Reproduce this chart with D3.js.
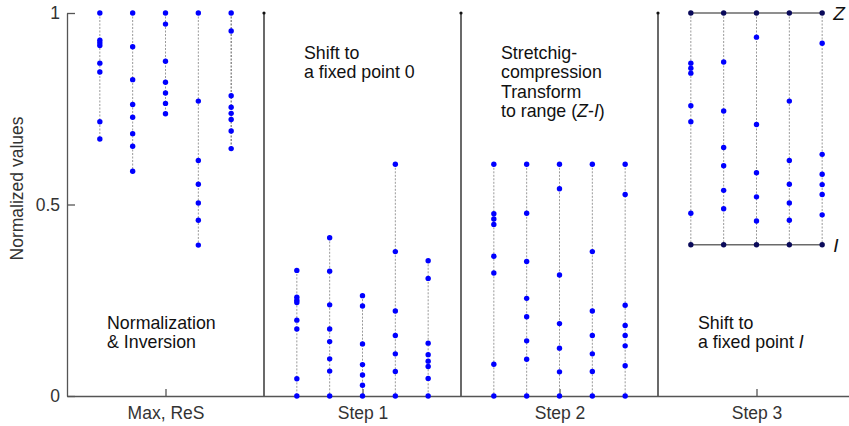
<!DOCTYPE html>
<html>
<head>
<meta charset="utf-8">
<script src="https://cdn.jsdelivr.net/npm/d3@7"></script>
<style>
  html, body { margin: 0; padding: 0; background: #fff; }
  svg { display: block; font-family: "Liberation Sans", Arial, sans-serif; }
</style>
</head>
<body>
<svg id="chart" width="849" height="426"></svg>
<script>
// ---------- data ----------
const categories = ["Max, ReS", "Step 1", "Step 2", "Step 3"];
const yTicks = [0, 0.5, 1];

// Values for each column (5 columns per panel)
const rawValues = [
  [1.0, 0.929, 0.922, 0.915, 0.869, 0.846, 0.716, 0.671],
  [1.0, 0.912, 0.826, 0.761, 0.728, 0.685, 0.652, 0.587],
  [1.0, 0.971, 0.874, 0.819, 0.791, 0.764, 0.737],
  [1.0, 0.770, 0.615, 0.553, 0.504, 0.459, 0.394],
  [1.0, 0.953, 0.784, 0.754, 0.738, 0.722, 0.692, 0.646]
];
const step1Values = [
  [0.328, 0.258, 0.250, 0.244, 0.198, 0.175, 0.045, 0],
  [0.413, 0.326, 0.238, 0.175, 0.142, 0.097, 0.065, 0],
  [0.262, 0.235, 0.136, 0.082, 0.055, 0.028, 0],
  [0.605, 0.377, 0.222, 0.158, 0.110, 0.064, 0],
  [0.353, 0.307, 0.138, 0.108, 0.091, 0.077, 0.046, 0]
];
const step2Values = [
  [0.605, 0.476, 0.462, 0.448, 0.365, 0.321, 0.083, 0],
  [0.605, 0.477, 0.351, 0.255, 0.207, 0.144, 0.096, 0],
  [0.605, 0.541, 0.316, 0.189, 0.125, 0.063, 0],
  [0.605, 0.377, 0.222, 0.158, 0.110, 0.064, 0],
  [0.605, 0.526, 0.237, 0.184, 0.158, 0.131, 0.079, 0]
];
const step3Values = [
  [1.0, 0.869, 0.856, 0.843, 0.758, 0.716, 0.477, 0.395],
  [1.0, 0.872, 0.744, 0.649, 0.601, 0.537, 0.489, 0.395],
  [1.0, 0.937, 0.709, 0.583, 0.520, 0.457, 0.395],
  [1.0, 0.770, 0.615, 0.553, 0.504, 0.459, 0.395],
  [1.0, 0.921, 0.631, 0.579, 0.552, 0.526, 0.473, 0.395]
];
const panels = [rawValues, step1Values, step2Values, step3Values];

const boundZ = 1.0;
const boundI = 0.395;

const annotations = [
  { panel: 0, lines: ["Normalization", "& Inversion"], y: 0.175 },
  { panel: 1, lines: ["Shift to", "a fixed point 0"], y: 0.88 },
  { panel: 2, lines: ["Stretchig-", "compression", "Transform", "to range (Z-I)"], y: 0.88 },
  { panel: 3, lines: ["Shift to", "a fixed point I"], y: 0.175 }
];

// ---------- layout ----------
const svg = d3.select("#chart");
const x = d3.scaleLinear().domain([0, 4]).range([67, 855]);
const y = d3.scaleLinear().domain([0, 1]).range([396, 13]);
const colOffsets = [-2, -1, 0, 1, 2].map(k => k / 6);
const colX = (p, j) => x(p + 0.5 + colOffsets[j]);

// dividers between panels
const dividers = [1, 2, 3];
svg.append("g").selectAll("line").data(dividers).join("line")
  .attr("x1", d => x(d)).attr("x2", d => x(d))
  .attr("y1", y(1)).attr("y2", y(0))
  .attr("stroke", "#1a1a1a").attr("stroke-width", 1.3);
svg.append("g").selectAll("circle").data(dividers).join("circle")
  .attr("cx", d => x(d)).attr("cy", y(1)).attr("r", 1.6).attr("fill", "#111");

// axes
const yAxis = d3.axisLeft(y).tickValues(yTicks).tickFormat(d3.format("")).tickSize(-8).tickSizeOuter(0).tickPadding(7);
const gy = svg.append("g").attr("transform", `translate(${x(0)},0)`).call(yAxis);
const xAxis = d3.axisBottom(x).tickValues([0.5, 1.5, 2.5, 3.5]).tickFormat((d, i) => categories[i]).tickSize(-7).tickSizeOuter(0).tickPadding(11);
const gx = svg.append("g").attr("transform", `translate(0,${y(0)})`).call(xAxis);
[gy, gx].forEach(g => {
  g.select(".domain").attr("stroke", "#555").attr("stroke-width", 1.3);
  g.selectAll(".tick line").attr("stroke", "#555").attr("stroke-width", 1.3);
  g.selectAll(".tick text").attr("fill", "#333").style("font-size", "17.5px")
    .style("font-family", "'Liberation Sans', Arial, sans-serif");
});

// y title
svg.append("text")
  .attr("transform", `translate(23,${(y(0)+y(1))/2 - 16}) rotate(-90)`)
  .attr("text-anchor", "middle")
  .attr("fill", "#333").style("font-size", "17.5px")
  .text("Normalized values");

// Step 3 bound lines
const p3 = 3;
[boundZ, boundI].forEach(b => {
  svg.append("line")
    .attr("x1", colX(p3, 0)).attr("x2", colX(p3, 4))
    .attr("y1", y(b)).attr("y2", y(b))
    .attr("stroke", "#6a6a6a").attr("stroke-width", 1.5);
});

// dashed stems and dots
panels.forEach((cols, p) => {
  cols.forEach((vals, j) => {
    const cx = colX(p, j);
    svg.append("line")
      .attr("x1", cx).attr("x2", cx)
      .attr("y1", y(d3.max(vals))).attr("y2", y(d3.min(vals)))
      .attr("stroke", (p === 0 && j === 4) ? "#555" : "#9a9a9a")
      .attr("stroke-width", 1)
      .attr("stroke-dasharray", "2,1.5");
    svg.append("g").selectAll("circle").data(vals).join("circle")
      .attr("cx", cx).attr("cy", d => y(d)).attr("r", 2.7)
      .attr("fill", d => (p === 3 && (d === boundZ || d === boundI)) ? "#0a0a5a" : "#0000ff");
  });
});

// Z / I labels
svg.append("text").attr("x", colX(p3, 4) + 11).attr("y", y(boundZ) + 7)
  .style("font-size", "19px").style("font-style", "italic").attr("fill", "#111").text("Z");
svg.append("text").attr("x", colX(p3, 4) + 11).attr("y", y(boundI) + 7)
  .style("font-size", "19px").style("font-style", "italic").attr("fill", "#111").text("I");

// annotations
annotations.forEach(a => {
  const t = svg.append("text")
    .attr("x", x(a.panel) + 40)
    .attr("y", y(a.y))
    .attr("fill", "#111").style("font-size", "17.8px");
  a.lines.forEach((ln, i) => {
    const ts = t.append("tspan").attr("x", x(a.panel) + 40).attr("dy", i === 0 ? 0 : 19.5);
    const m = ln.match(/^(.*?)(\(Z-I\)|I)$/);
    if (m && a.panel >= 2) {
      ts.text(m[1]);
      if (m[2] === "I") {
        ts.append("tspan").style("font-style", "italic").text("I");
      } else {
        ts.append("tspan").text("(");
        ts.append("tspan").style("font-style", "italic").text("Z");
        ts.append("tspan").text("-");
        ts.append("tspan").style("font-style", "italic").text("I");
        ts.append("tspan").text(")");
      }
    } else {
      ts.text(ln);
    }
  });
});
</script>
</body>
</html>
